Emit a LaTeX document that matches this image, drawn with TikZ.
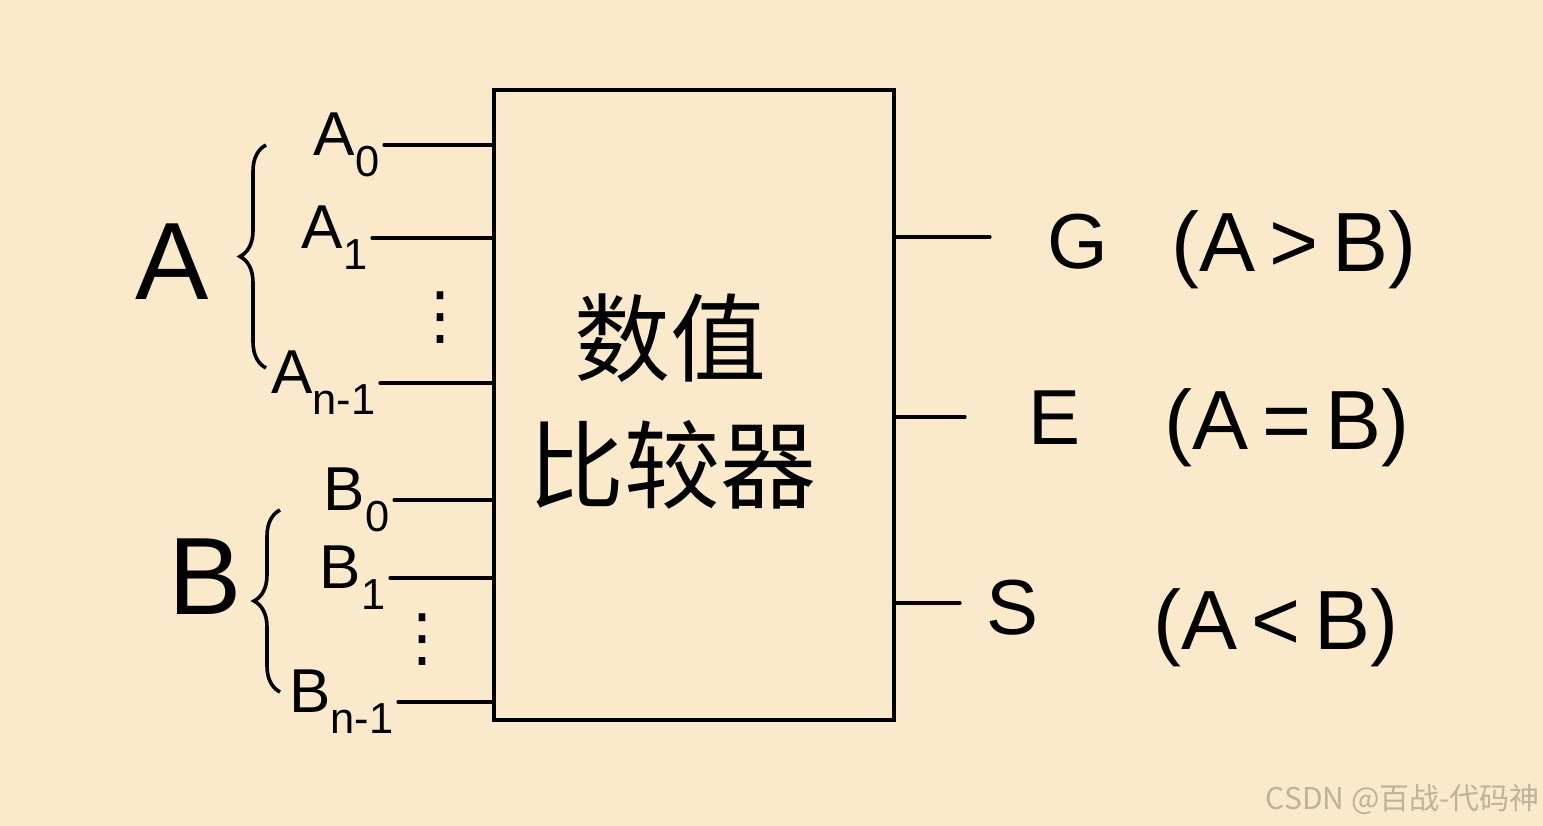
\documentclass[tikz,border=0pt]{standalone}
\usepackage{fontspec}
\setmainfont{Liberation Sans}
\newfontfamily\cjk{Noto Sans CJK SC}
\newfontfamily\symf{DejaVu Sans}
\usetikzlibrary{positioning,calc,decorations.pathreplacing}
\definecolor{paper}{HTML}{FAEACB}
\definecolor{markgray}{HTML}{BDB29C}

\begin{document}
\begin{tikzpicture}[x=1pt,y=-1pt,
    wire/.style={line width=3.2pt,line cap=round},
    pin/.style={font=\fontsize{62}{70}\selectfont,inner sep=4pt},
    outlbl/.style={font=\fontsize{78}{90}\selectfont,inner sep=0pt},
    cond/.style={font=\fontsize{84}{96}\selectfont,inner sep=0pt},
    grp/.style={font=\fontsize{110}{120}\selectfont,inner sep=0pt},
    brc/.style={decorate,decoration={brace,amplitude=26pt}},
    hz/.style={font=\cjk\fontsize{96}{110}\selectfont,inner sep=0pt},
    dots/.style={font=\symf\fontsize{64}{70}\selectfont,inner sep=0pt}
]
\fill[paper] (0,0) rectangle (1543,826);
\useasboundingbox (0,0) rectangle (1543,826);

% comparator block
\node[draw,line width=3.2pt,inner sep=0pt,minimum width=400pt,minimum height=630pt]
    (cmp) at (694,405) {};
\node[hz] (name1) at (670,338) {数值};
\node[hz] (name2) at (672,465) {比较器};

% A inputs
\node[pin,anchor=east] (a0) at (384,145) {A\textsubscript{0}};
\node[pin,anchor=east] (a1) at (372,238) {A\textsubscript{1}};
\node[dots] (adots) at (440,318) {⋮};
\node[pin,anchor=east] (an) at (380,383) {A\textsubscript{n-1}};
\draw[wire] (a0.east) -- (a0.east -| cmp.west);
\draw[wire] (a1.east) -- (a1.east -| cmp.west);
\draw[wire] (an.east) -- (an.east -| cmp.west);

% B inputs
\node[pin,anchor=east] (b0) at (394,500) {B\textsubscript{0}};
\node[pin,anchor=east] (b1) at (390,578) {B\textsubscript{1}};
\node[dots] (bdots) at (422,640) {⋮};
\node[pin,anchor=east] (bn) at (398,702) {B\textsubscript{n-1}};
\draw[wire] (b0.east) -- (b0.east -| cmp.west);
\draw[wire] (b1.east) -- (b1.east -| cmp.west);
\draw[wire] (bn.east) -- (bn.east -| cmp.west);

% groups
\draw[brc,line width=3.6pt] (266,368) -- (266,145);
\node[grp] (ga) at (172,262) {A};
\draw[brc,line width=3.6pt] (280,692) -- (280,510);
\node[grp] (gb) at (205,577) {B};

% outputs
\coordinate (gend) at (990,237);
\coordinate (eend) at (965,417);
\coordinate (send) at (960,603);
\draw[wire] (gend -| cmp.east) -- (gend);
\draw[wire] (eend -| cmp.east) -- (eend);
\draw[wire] (send -| cmp.east) -- (send);
\node[outlbl] (g) at (1078,242) {G};
\node[outlbl] (e) at (1055,418) {E};
\node[outlbl] (s) at (1013,608) {S};
\node[cond] (gc) at (1294,250) {(A\,>\,B)};
\node[cond] (ec) at (1287,428) {(A\,=\,B)};
\node[cond] (sc) at (1276,628) {(A\,<\,B)};

\node[font=\cjk\fontsize{30}{33}\selectfont,text=markgray,anchor=east,inner sep=0pt]
    (mark) at (1540,799) {CSDN @百战-代码神};
\end{tikzpicture}
\end{document}
